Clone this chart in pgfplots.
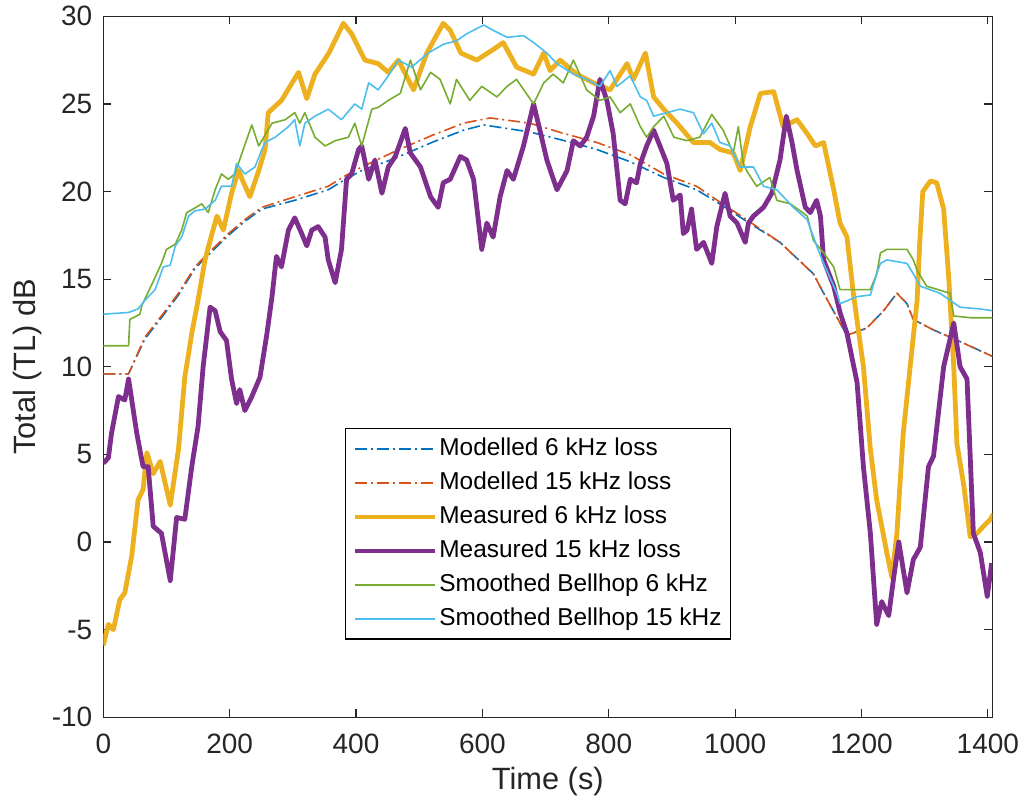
\documentclass[border=0pt]{standalone}
\usepackage{pgfplots}
\pgfplotsset{compat=1.18}
\usepackage{fontspec}
\setmainfont{Liberation Sans}
\definecolor{mblue}{rgb}{0,0.447,0.741}
\definecolor{morange}{rgb}{0.85,0.325,0.098}
\definecolor{myellow}{rgb}{0.929,0.694,0.125}
\definecolor{mpurple}{rgb}{0.494,0.184,0.556}
\definecolor{mgreen}{rgb}{0.466,0.674,0.188}
\definecolor{mcyan}{rgb}{0.301,0.745,0.933}
\definecolor{axgray}{rgb}{0.15,0.15,0.15}
\begin{document}
\begin{tikzpicture}
\begin{axis}[
  name=ax,
  scale only axis,
  width=444.5pt, height=350.5pt,
  xmin=0, xmax=1407, ymin=-10, ymax=30,
  xtick={0,200,400,600,800,1000,1200,1400},
  xticklabels={0,200,400,600,800,1000,1200,1400},
  ytick={-10,-5,0,5,10,15,20,25,30},
  yticklabels={-10,-5,0,5,10,15,20,25,30},
  tick align=inside,
  major tick length=4pt,
  axis line style={draw=axgray, line width=0.6pt},
  every tick/.style={draw=axgray, line width=0.6pt},
  tick label style={font=\fontsize{14}{16}\selectfont, text=axgray},
  xticklabel style={yshift=-5pt},
  yticklabel style={xshift=-2pt},
  xlabel={Time (s)},
  ylabel={Total (TL) dB},
  label style={font=\fontsize{15.4}{17}\selectfont, text=axgray},
  xlabel style={at={(axis description cs:0.5,-0.1036)}, anchor=base},
  ylabel style={at={(axis description cs:-0.0760,0.5)}, anchor=base},
  every axis plot/.append style={line join=round},
  legend style={at={(axis description cs:0.2719,0.4123)}, anchor=north west,
    draw=black, line width=0.6pt, fill=white,
    font=\fontsize{12.2}{14}\selectfont,
    inner xsep=3.5pt, inner ysep=3.3pt, row sep=3.5pt,
    nodes={inner sep=1pt, text height=9pt, text depth=2.5pt},
    /tikz/every even column/.append style={column sep=1.5pt}},
  legend cell align=left,
  legend image code/.code={\draw[#1] (0pt,0pt) -- (40pt,0pt);},
]
% Modelled 6 kHz
\addplot[mblue, line width=0.8pt, dash pattern=on 6pt off 2pt on 1pt off 2pt] table {
0 9.6
40 9.6
66 11.6
92 12.8
119 14.1
145 15.6
161 16.2
198 17.5
224 18.3
251 19.0
303 19.5
356 20.1
383 20.7
409 21.2
462 21.9
520 22.8
570 23.5
602 23.8
675 23.4
730 22.9
781 22.4
834 21.7
887 20.8
939 20.1
980 19.2
1018 18.3
1071 17.1
1124 15.3
1140 14.2
1166 12.5
1177 11.8
1208 12.2
1235 13.2
1256 14.2
1272 13.6
1282 12.7
1314 12.1
1346 11.6
1407 10.6
};
\addlegendentry{Modelled 6 kHz loss}
% Modelled 15 kHz
\addplot[morange, line width=0.8pt, dash pattern=on 6pt off 2pt on 1pt off 2pt] table {
0 9.6
40 9.6
66 11.7
92 12.9
119 14.2
145 15.7
161 16.3
198 17.6
224 18.4
251 19.1
303 19.7
356 20.3
383 20.9
409 21.4
462 22.3
520 23.2
570 23.9
612 24.2
675 23.9
730 23.3
781 22.8
834 22.1
887 21.0
939 20.3
980 19.3
1018 18.4
1071 17.1
1124 15.3
1140 14.2
1166 12.5
1177 11.8
1208 12.2
1235 13.2
1256 14.2
1272 13.6
1282 12.7
1314 12.1
1346 11.6
1407 10.6
};
\addlegendentry{Modelled 15 kHz loss}
% Measured 6 kHz
\addplot[myellow, line width=2.4pt] table {
0 -5.9
8 -4.7
16 -5.0
26 -3.3
34 -2.9
45 -0.8
55 2.4
63 3.0
69 5.1
79 3.9
90 4.6
106 2.1
119 5.3
129 9.4
140 11.9
150 13.8
161 16.1
172 17.6
180 18.6
190 17.8
203 19.9
214 21.2
222 20.5
232 19.7
246 21.2
256 22.4
261 24.5
282 25.2
309 26.8
322 25.3
335 26.7
357 27.9
380 29.6
393 29.0
414 27.5
435 27.3
451 26.8
467 27.5
491 25.8
512 27.9
538 29.6
549 29.2
566 27.9
591 27.5
617 28.1
633 28.5
654 27.1
681 26.7
697 27.9
707 26.9
723 27.5
749 26.7
776 26.2
802 25.8
829 27.3
839 26.4
858 27.9
871 25.4
887 24.7
908 23.9
934 22.8
960 22.8
976 22.4
997 22.2
1008 21.2
1024 23.7
1040 25.6
1061 25.7
1076 23.7
1098 24.1
1114 23.3
1127 22.6
1140 22.8
1156 20.1
1166 18.2
1177 17.4
1187 14.2
1198 11.3
1203 10.0
1214 5.3
1224 2.4
1240 -0.6
1248 -2.0
1256 0.5
1266 6.2
1277 10.0
1288 13.8
1292 17.0
1297 20.0
1309 20.6
1319 20.5
1330 19.0
1338 15.1
1346 10.0
1351 5.6
1362 3.2
1372 0.3
1383 0.5
1393 0.9
1404 1.3
1409 1.6
};
\addlegendentry{Measured 6 kHz loss}
% Measured 15 kHz
\addplot[mpurple, line width=2.4pt] table {
0 4.5
8 4.8
13 6.2
24 8.3
34 8.1
40 9.3
53 6.2
63 4.3
71 4.3
79 0.9
92 0.5
106 -2.2
116 1.4
129 1.3
140 4.3
150 6.6
158 10.0
169 13.4
177 13.2
185 12.0
195 11.5
203 9.3
211 7.9
216 8.7
224 7.5
235 8.3
248 9.4
259 11.9
267 14.0
274 16.3
282 15.7
293 17.8
303 18.5
314 17.6
322 16.9
330 17.8
340 18.0
351 17.4
356 16.1
367 14.8
377 16.7
385 20.7
393 21.0
404 22.4
409 22.6
420 20.7
430 21.8
441 19.9
451 21.4
462 22.0
478 23.6
486 22.2
502 21.4
518 19.7
530 19.1
538 20.5
549 20.7
565 22.0
575 21.8
586 20.7
596 17.6
599 16.7
607 18.2
617 17.4
628 19.7
639 21.2
649 20.7
665 22.6
681 25.0
691 23.5
702 21.8
718 20.1
734 21.2
744 22.9
755 22.6
765 23.1
776 24.3
786 26.4
797 25.2
807 23.3
818 19.5
826 19.3
834 20.7
844 20.5
850 21.6
860 22.6
871 23.5
881 22.6
892 21.6
902 19.5
913 19.8
918 17.6
924 17.8
931 19.0
939 16.7
950 17.1
963 15.9
971 18.0
984 19.9
992 18.6
1003 18.2
1016 17.1
1021 18.2
1029 18.6
1045 19.1
1058 19.9
1071 21.8
1081 24.3
1090 22.8
1098 21.2
1111 19.1
1119 18.8
1129 19.5
1135 18.6
1140 16.1
1156 14.6
1166 13.1
1177 11.9
1193 9.1
1203 4.3
1214 0.5
1224 -4.7
1232 -3.4
1243 -4.2
1251 -2.0
1259 0.0
1272 -2.9
1282 -1.0
1293 -0.3
1306 4.3
1314 4.9
1330 10.0
1346 12.5
1356 10.0
1367 9.3
1377 0.5
1388 -0.6
1399 -3.1
1406 -1.2
};
\addlegendentry{Measured 15 kHz loss}
% Smoothed Bellhop 6 kHz
\addplot[mgreen, line width=0.8pt] table {
0 11.2
40 11.2
42 12.7
58 13.0
61 13.5
82 15.1
92 15.9
100 16.7
114 17.0
124 17.8
132 18.8
142 19.0
156 19.3
166 18.8
177 20.1
187 21.0
198 20.7
208 21.0
235 23.8
246 22.6
267 23.9
288 24.1
303 24.5
311 23.9
319 24.5
335 23.1
351 22.6
367 22.9
388 23.1
398 23.9
409 22.6
425 24.7
435 24.8
451 25.2
470 25.6
486 27.5
502 25.8
518 26.8
533 26.4
549 25.0
559 26.4
580 25.2
599 26.0
623 25.4
639 26.0
654 26.4
681 25.0
697 26.2
712 26.7
728 26.2
744 27.5
765 25.8
786 25.2
802 25.4
818 24.5
834 25.0
850 23.7
860 23.1
871 23.7
887 24.3
903 23.1
924 22.9
944 23.1
963 24.4
981 23.5
997 22.2
1005 23.7
1013 21.6
1018 21.2
1034 20.3
1055 20.8
1066 19.5
1087 19.3
1103 18.9
1114 18.6
1124 17.2
1140 16.5
1156 15.7
1166 14.4
1193 14.4
1214 14.4
1224 15.3
1230 16.5
1240 16.7
1272 16.7
1282 16.1
1288 15.5
1303 14.6
1340 14.2
1346 12.9
1372 12.8
1407 12.8
};
\addlegendentry{Smoothed Bellhop 6 kHz}
% Smoothed Bellhop 15 kHz
\addplot[mcyan, line width=0.8pt] table {
0 13.0
40 13.1
55 13.3
66 13.8
82 14.4
95 15.7
106 15.8
114 16.9
124 17.4
135 18.6
145 18.9
161 19.0
177 19.5
187 20.3
203 20.3
211 21.6
224 21.0
240 21.4
251 22.4
256 22.8
272 23.1
293 23.7
303 24.1
311 22.6
319 23.9
335 24.3
356 24.7
377 24.1
398 25.0
409 24.7
420 26.2
435 25.8
451 26.6
467 27.5
488 27.1
514 27.9
538 28.4
559 28.6
575 29.0
602 29.5
617 29.2
639 28.8
665 28.9
681 28.5
702 27.9
718 27.3
744 26.7
765 26.4
786 26.0
802 26.9
813 26.0
834 26.6
850 25.4
860 25.2
871 24.3
892 24.5
913 24.7
934 24.5
950 23.3
963 23.9
976 22.8
992 22.6
1008 21.4
1029 21.4
1045 20.3
1066 20.1
1092 19.1
1114 18.4
1129 16.9
1140 15.9
1161 14.2
1166 13.6
1193 14.0
1214 14.1
1224 15.3
1230 15.9
1240 16.1
1272 15.9
1282 15.3
1293 14.6
1324 14.2
1356 13.4
1388 13.3
1407 13.2
};
\addlegendentry{Smoothed Bellhop 15 kHz}
\end{axis}
\pgfresetboundingbox
\path[use as bounding box] ([shift={(-51.65pt,-43.85pt)}]ax.south west) rectangle ([shift={(14.35pt,8.15pt)}]ax.north east);
\end{tikzpicture}
\end{document}
